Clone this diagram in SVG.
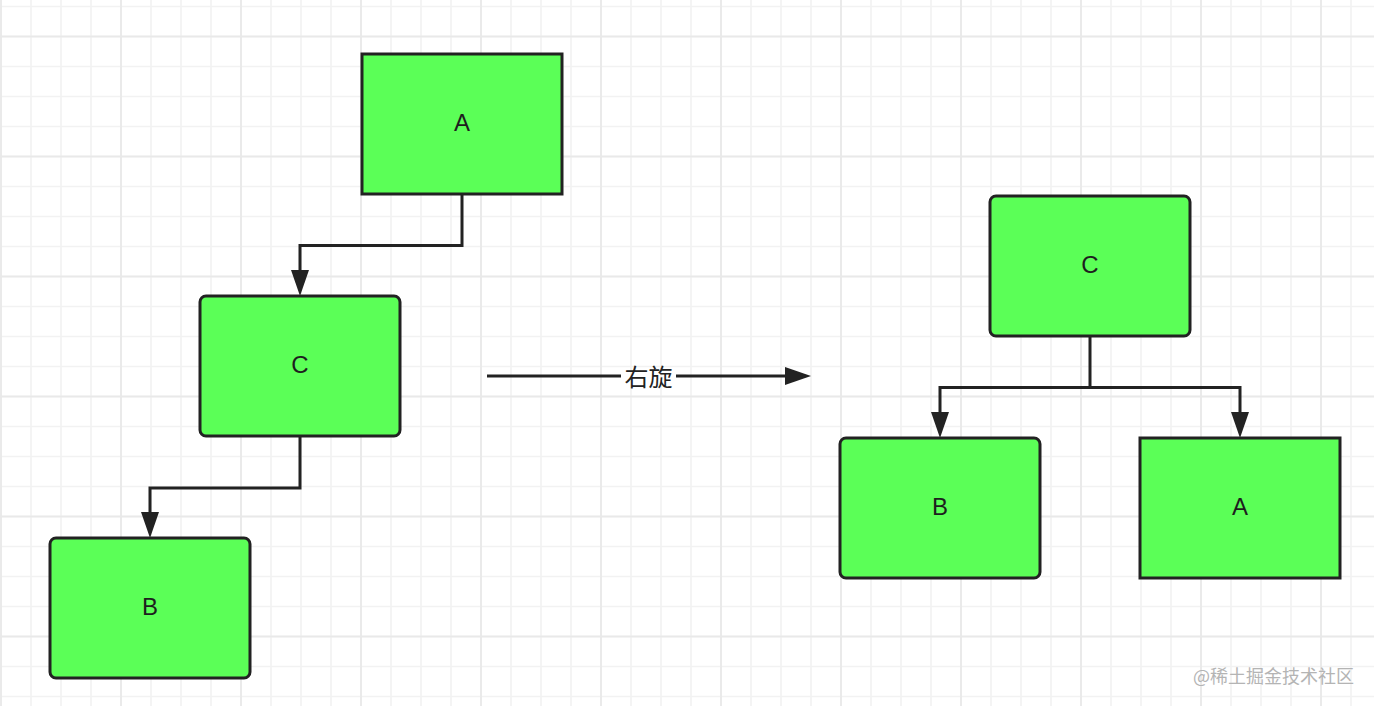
<svg xmlns="http://www.w3.org/2000/svg" width="1374" height="706" viewBox="0 0 1374 706">
  <style>
    .node rect { fill: #5bff57; stroke: #222222; stroke-width: 3; }
    .node text { font-family: "Liberation Sans", Arial, sans-serif; font-size: 24px; fill: #1e1e1e; text-anchor: middle; dominant-baseline: central; }
    .edge { fill: none; stroke: #222222; stroke-width: 3; stroke-linejoin: miter; }
    .label { font-family: "Noto Sans CJK SC", "Noto Sans", sans-serif; font-size: 24px; fill: #222222; text-anchor: middle; dominant-baseline: central; }
    .wm { font-family: "Noto Sans CJK SC", sans-serif; font-size: 18px; fill: #b4b4b4; text-anchor: end; }
  </style>
  <defs>
    <pattern id="minor" width="30" height="30" patternUnits="userSpaceOnUse">
      <path d="M1,0 V30 M0,6.5 H30" stroke="#f2f2f2" stroke-width="1.6" fill="none"/>
    </pattern>
    <pattern id="major" width="120" height="120" patternUnits="userSpaceOnUse">
      <path d="M1,0 V120 M0,36.5 H120" stroke="#e9e9e9" stroke-width="1.8" fill="none"/>
    </pattern>
    <marker id="arrow" markerUnits="userSpaceOnUse" markerWidth="28" markerHeight="20" refX="0" refY="9" orient="auto">
      <path d="M0,0 L26,9 L0,18 Z" fill="#222222"/>
    </marker>
  </defs>

  <rect width="1374" height="706" fill="#ffffff"/>
  <rect width="1374" height="706" fill="url(#minor)"/>
  <rect width="1374" height="706" fill="url(#major)"/>

  <g id="connectors">
    <path class="edge" d="M462,194 V245.5 H300 V270" marker-end="url(#arrow)"/>
    <path class="edge" d="M300,436 V488 H150 V512" marker-end="url(#arrow)"/>
    <path class="edge" d="M1090,336 V387.5 H940 V412" marker-end="url(#arrow)"/>
    <path class="edge" d="M1090,387.5 H1240 V412" marker-end="url(#arrow)"/>
    <path class="edge" d="M487,376 H621"/>
    <path class="edge" d="M676,376 H785" marker-end="url(#arrow)"/>
    <text class="label" x="648.5" y="375">右旋</text>
  </g>

  <g id="node-left-A" class="node">
    <rect x="362" y="54" width="200" height="140"/>
    <text x="462" y="122">A</text>
  </g>
  <g id="node-left-C" class="node">
    <rect x="200" y="296" width="200" height="140" rx="6" ry="6"/>
    <text x="300" y="364">C</text>
  </g>
  <g id="node-left-B" class="node">
    <rect x="50" y="538" width="200" height="140" rx="6" ry="6"/>
    <text x="150" y="606">B</text>
  </g>
  <g id="node-right-C" class="node">
    <rect x="990" y="196" width="200" height="140" rx="6" ry="6"/>
    <text x="1090" y="264">C</text>
  </g>
  <g id="node-right-B" class="node">
    <rect x="840" y="438" width="200" height="140" rx="6" ry="6"/>
    <text x="940" y="506">B</text>
  </g>
  <g id="node-right-A" class="node">
    <rect x="1140" y="438" width="200" height="140"/>
    <text x="1240" y="506">A</text>
  </g>

  <text class="wm" x="1354" y="683">@稀土掘金技术社区</text>
</svg>
